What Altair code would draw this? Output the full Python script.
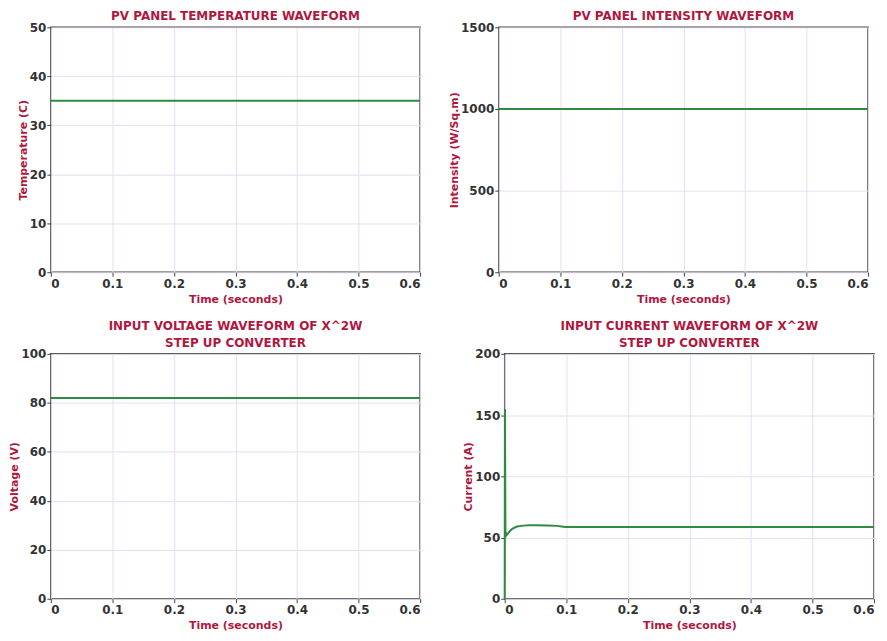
import altair as alt
import pandas as pd

# ---- data ----
t_flat = [0.0, 0.6]
temp_vals = [35, 35]
intensity_vals = [1000, 1000]
voltage_vals = [82, 82]

t_cur = [0.0, 0.0004, 0.0012, 0.002, 0.003, 0.005, 0.008, 0.012, 0.02, 0.03, 0.04, 0.05, 0.07, 0.085, 0.095, 0.1, 0.2, 0.4, 0.6]
cur_vals = [0, 155, 50, 54, 52, 53, 55, 57, 59, 59.7, 60, 60, 59.8, 59.5, 58.8, 58.5, 58.5, 58.5, 58.5]

x_ticks = [0, 0.1, 0.2, 0.3, 0.4, 0.5, 0.6]

RED = "#b0173e"
GREEN = "#2e8b3f"
W, H = 371, 246


def panel(ts, vs, ymax, ystep, ytitle, title):
    df = pd.DataFrame({"t": ts, "v": vs})
    yt = list(range(0, ymax + 1, ystep))
    return alt.Chart(df).mark_line(color=GREEN, strokeWidth=2).encode(
        x=alt.X("t:Q", scale=alt.Scale(domain=[0, 0.6], nice=False),
                axis=alt.Axis(values=x_ticks, format="~g", title="Time (seconds)", titlePadding=4)),
        y=alt.Y("v:Q", scale=alt.Scale(domain=[0, ymax], nice=False),
                axis=alt.Axis(values=yt, format="d", title=ytitle, titlePadding=1, labelPadding=1)),
    ).properties(width=W, height=H, title=alt.TitleParams(text=title))


p1 = panel(t_flat, temp_vals, 50, 10, "Temperature (C)", "PV PANEL TEMPERATURE WAVEFORM")
p2 = panel(t_flat, intensity_vals, 1500, 500, "Intensity (W/Sq.m)", "PV PANEL INTENSITY WAVEFORM")
p3 = panel(t_flat, voltage_vals, 100, 20, "Voltage (V)", ["INPUT VOLTAGE WAVEFORM OF X^2W", "STEP UP CONVERTER"])
p4 = panel(t_cur, cur_vals, 200, 50, "Current (A)", ["INPUT CURRENT WAVEFORM OF X^2W", "STEP UP CONVERTER"])

chart = alt.vconcat(
    alt.hconcat(p1, p2, spacing=22),
    alt.hconcat(p3, p4, spacing=37),
    spacing=14,
).properties(padding={"left": 0, "top": 0, "right": 0, "bottom": 0}).configure_view(
    stroke="#444444", strokeWidth=1.5
).configure_axis(
    labelFont="DejaVu Sans", labelFontWeight="bold", labelFontSize=12, labelColor="#333333",
    titleFont="DejaVu Sans", titleFontWeight="bold", titleFontSize=11, titleColor=RED,
    gridColor="#eadcef", gridWidth=1, domain=False, tickColor="#444444", tickSize=4,
    labelPadding=2,
).configure_title(
    font="DejaVu Sans", fontWeight="bold", fontSize=12, color=RED, offset=-2, lineHeight=17,
)

chart.save("out.html", embed_options={"renderer": "svg", "actions": False})
